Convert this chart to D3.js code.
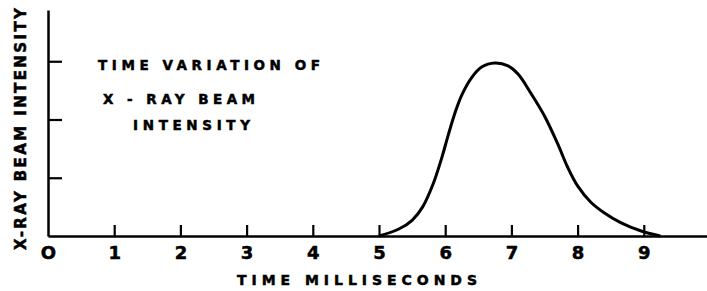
<!DOCTYPE html>
<html>
<head>
<meta charset="utf-8">
<script src="https://cdn.jsdelivr.net/npm/d3@7"></script>
<style>
  body { margin: 0; background: #fff; }
  svg { display: block; }
  text { font-family: "DejaVu Sans", Arial, sans-serif; font-weight: bold; fill: #000; stroke: #000; stroke-width: 0.5px; }
</style>
</head>
<body>
<div id="chart"></div>
<script>
// valeurs
const timeMs = [5.0, 5.3, 5.5, 5.66, 5.82, 5.95, 6.05, 6.15, 6.25, 6.4, 6.55, 6.75, 6.95, 7.1, 7.3, 7.5, 7.7, 7.85, 8.0, 8.2, 8.4, 8.65, 8.95, 9.25];
const intensity = [0, 0.12, 0.27, 0.50, 0.90, 1.35, 1.75, 2.12, 2.42, 2.72, 2.90, 2.97, 2.92, 2.78, 2.44, 2.06, 1.58, 1.18, 0.86, 0.58, 0.40, 0.23, 0.09, 0];
const xTicks = [0, 1, 2, 3, 4, 5, 6, 7, 8, 9];
const yTicks = [1, 2, 3];
const titleLines = ["TIME  VARIATION  OF", "X - RAY  BEAM", "INTENSITY"];

const width = 707;
const height = 291;

const x = d3.scaleLinear().domain([0, 10]).range([48, 710]);
const y = d3.scaleLinear().domain([0, 3.88]).range([236, 10]);

const svg = d3.select("#chart")
    .append("svg")
    .attr("width", width)
    .attr("height", height);

// axe x
const xAxis = svg.append("g")
    .attr("transform", `translate(0,${y(0)})`)
    .call(d3.axisBottom(x).tickValues(xTicks).tickSize(-11).tickSizeOuter(0).tickPadding(12));
xAxis.select(".domain").attr("stroke-width", 2.5);
xAxis.selectAll(".tick line").attr("stroke-width", 2.2);
xAxis.selectAll(".tick").filter(d => d === 0).select("line").remove();
xAxis.selectAll(".tick text")
    .attr("font-size", 18)
    .attr("font-family", "DejaVu Sans, Arial, sans-serif")
    .attr("font-weight", "bold")
    .attr("y", 17)
    .attr("dy", "0.35em")
    .text(d => d === 0 ? "O" : d);

// axe y
const yAxis = svg.append("g")
    .attr("transform", `translate(${x(0)},0)`)
    .call(d3.axisRight(y).tickValues(yTicks).tickSize(14).tickSizeOuter(0).tickFormat(""));
yAxis.select(".domain").attr("stroke-width", 2.5);
yAxis.selectAll(".tick line").attr("stroke-width", 2.2);

// courbe
const line = d3.line()
    .x((d, i) => x(timeMs[i]))
    .y(d => y(d))
    .curve(d3.curveCatmullRom);

svg.append("path")
    .datum(intensity)
    .attr("d", line)
    .attr("fill", "none")
    .attr("stroke", "#000")
    .attr("stroke-width", 3);

// titres
svg.append("text")
    .attr("x", 237)
    .attr("y", 280)
    .attr("dy", "0.35em")
    .attr("font-size", 14)
    .attr("textLength", 240)
    .attr("lengthAdjust", "spacing")
    .text("TIME  MILLISECONDS");

svg.append("text")
    .attr("transform", "translate(21,129) rotate(-90)")
    .attr("text-anchor", "middle")
    .attr("dy", "0.35em")
    .attr("font-size", 15)
    .attr("textLength", 242)
    .attr("lengthAdjust", "spacing")
    .text("X-RAY  BEAM  INTENSITY");

const titlePos = [[98, 65, 222], [103, 99, 152], [133, 125, 117]];
svg.selectAll(".note")
    .data(titleLines)
    .join("text")
    .attr("class", "note")
    .attr("x", (d, i) => titlePos[i][0])
    .attr("y", (d, i) => titlePos[i][1])
    .attr("dy", "0.35em")
    .attr("font-size", 13.5)
    .attr("textLength", (d, i) => titlePos[i][2])
    .attr("lengthAdjust", "spacing")
    .text(d => d);
</script>
</body>
</html>
